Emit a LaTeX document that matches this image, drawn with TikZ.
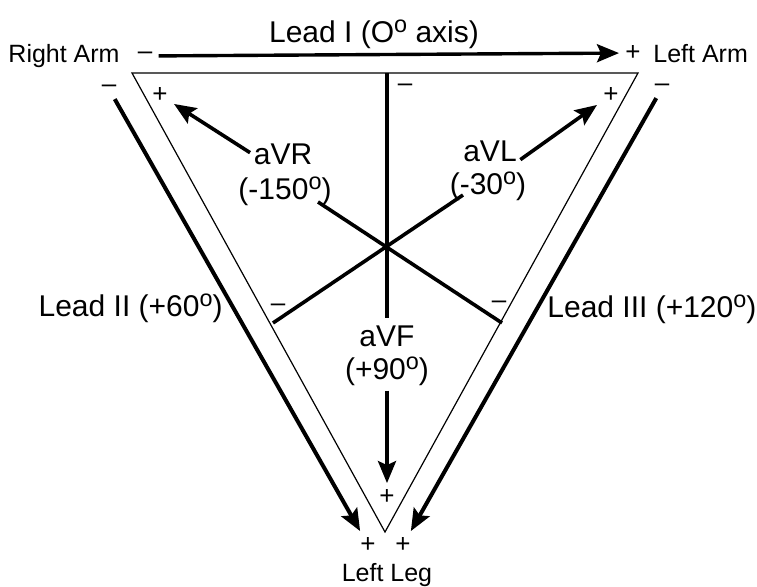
\documentclass[tikz,border=0pt]{standalone}
\usepackage{fontspec}
\setmainfont{Liberation Sans}
\usetikzlibrary{arrows.meta}
\newcommand{\dg}{\raisebox{0.36em}{\scalebox{0.78}{o}}}
\tikzset{
  lead/.style={font=\fontsize{15}{17}\selectfont,inner sep=0pt},
  limb/.style={font=\fontsize{12.5}{15}\selectfont,inner sep=0pt},
  pole/.style={font=\fontsize{13}{15}\selectfont,inner sep=3pt},
  axisline/.style={line width=1.8pt},
  sideline/.style={line width=2pt}
}
\begin{document}
\begin{tikzpicture}[x=0.5pt,y=-0.5pt,>={Stealth[length=11pt,width=9pt,inset=2pt]}]
\useasboundingbox (0,0) rectangle (757,587);

\coordinate (RA) at (132,73);
\coordinate (LA) at (638,73);
\coordinate (LL) at (385,532);
\coordinate (top) at (387,73);
\draw[line width=0.6pt] (RA)--(LA)--(LL)--cycle;

\node[limb,anchor=base east] (rarm) at (120,63) {Right Arm};
\node[limb,anchor=base west] (larm) at (653,63) {Left Arm};
\node[limb,anchor=base] (lleg) at (387,582) {Left Leg};

\node[pole] (iMinus) at (145,56) {--};
\node[pole] (iPlus) at (633,53) {+};
\node[pole] (iiMinus) at (109,89) {--};
\node[pole] (iiPlus) at (368,545) {+};
\node[pole] (iiiMinus) at (662,88) {--};
\node[pole] (iiiPlus) at (403,545) {+};

\node[lead,anchor=base] (leadI) at (374,43) {Lead I (O\dg{} axis)};
\node[lead,anchor=base east] (leadII) at (223,317) {Lead II (+60\dg)};
\node[lead,anchor=base west] (leadIII) at (547,318) {Lead III (+120\dg)};

\draw[->,line width=1.7pt] (iMinus)--(iPlus);
\draw[->,sideline] (iiMinus)--(iiPlus);
\draw[->,sideline] (iiiMinus)--(iiiPlus);

\node[lead,anchor=base] (aVR) at (283,165) {aVR};
\node[lead,anchor=base] (aVRang) at (285,200) {(-150\dg)};
\node[lead,anchor=base] (aVL) at (490,162) {aVL};
\node[lead,anchor=base] (aVLang) at (488,195) {(-30\dg)};
\node[lead,anchor=base] (aVF) at (387,347) {aVF};
\node[lead,anchor=base] (aVFang) at (387,380) {(+90\dg)};

\node[pole] (rPlus) at (160,95) {+};
\node[pole] (lPlus) at (611,95) {+};
\node[pole] (fPlus) at (387,497) {+};
\node[pole] (fMinus) at (405,88) {--};
\node[pole] (rMinus) at (499,305) {--};
\node[pole] (lMinus) at (278,308) {--};

\coordinate (vrEnd) at (318,202);
\coordinate (vrFoot) at (502,323);
\coordinate (vlEnd) at (463,195);
\coordinate (vlFoot) at (273,323);

\draw[axisline,shorten >=4pt] (top)--(aVF);
\draw[axisline] (vrEnd)--(vrFoot);
\draw[axisline] (vlEnd)--(vlFoot);

\draw[->,axisline,shorten <=2pt] (aVR.west)--(rPlus);
\draw[->,axisline,shorten <=2pt] (aVL.base east)--(lPlus);
\draw[->,axisline,shorten <=2pt] (aVFang)--(fPlus);
\end{tikzpicture}
\end{document}
